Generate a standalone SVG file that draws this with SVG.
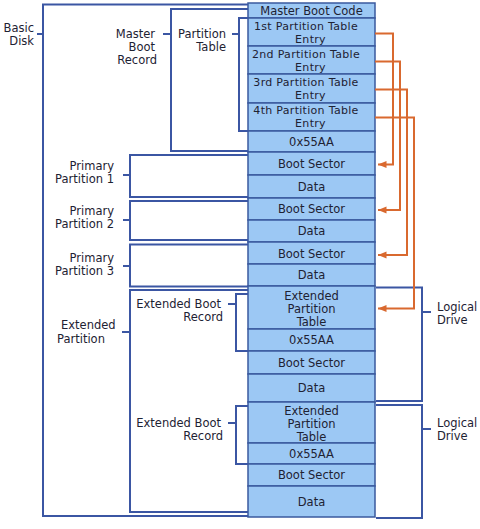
<svg xmlns="http://www.w3.org/2000/svg" width="480" height="529" viewBox="0 0 480 529">
<defs>
<style>
.cell{fill:#9cc8f4;stroke:#3a5a9e;stroke-width:1.5}
text{font-family:"DejaVu Sans","Verdana",sans-serif;font-size:11.5px;fill:#1e2233}
.c{text-anchor:middle}
.e{text-anchor:end}
.s{font-size:11px;letter-spacing:0.3px}
.br{fill:none;stroke:#3b56a3;stroke-width:2}
.ar{fill:none;stroke:#d9692f;stroke-width:2}
</style>
<marker id="ah" markerUnits="userSpaceOnUse" markerWidth="9" markerHeight="8" refX="8.5" refY="4" orient="auto">
<path d="M0,0.5 L8.5,4 L0,7.5 z" fill="#d9692f"/>
</marker>
</defs>
<rect width="480" height="529" fill="#ffffff"/>

<g id="column">
<g id="mbc"><rect class="cell" x="248" y="3" width="127" height="15"/><text class="c" x="311.5" y="14.5">Master Boot Code</text></g>
<g id="pte1"><rect class="cell" x="248" y="18" width="127" height="28"/><text class="c s" x="306" y="29.5">1st Partition Table</text><text class="c s" x="310.5" y="42.5">Entry</text></g>
<g id="pte2"><rect class="cell" x="248" y="46" width="127" height="28"/><text class="c s" x="306" y="57.5">2nd Partition Table</text><text class="c s" x="310.5" y="70.5">Entry</text></g>
<g id="pte3"><rect class="cell" x="248" y="74" width="127" height="29"/><text class="c s" x="306" y="85.5">3rd Partition Table</text><text class="c s" x="310.5" y="98.5">Entry</text></g>
<g id="pte4"><rect class="cell" x="248" y="103" width="127" height="28"/><text class="c s" x="306" y="113.5">4th Partition Table</text><text class="c s" x="310.5" y="126.5">Entry</text></g>
<g id="sig0"><rect class="cell" x="248" y="131" width="127" height="21"/><text class="c" x="311.5" y="146">0x55AA</text></g>
<g id="bs1"><rect class="cell" x="248" y="152" width="127" height="23"/><text class="c" x="311.5" y="168">Boot Sector</text></g>
<g id="data1"><rect class="cell" x="248" y="175" width="127" height="23"/><text class="c" x="311.5" y="190.5">Data</text></g>
<g id="bs2"><rect class="cell" x="248" y="198" width="127" height="22"/><text class="c" x="311.5" y="213">Boot Sector</text></g>
<g id="data2"><rect class="cell" x="248" y="220" width="127" height="22"/><text class="c" x="311.5" y="235">Data</text></g>
<g id="bs3"><rect class="cell" x="248" y="242" width="127" height="22"/><text class="c" x="311.5" y="257.5">Boot Sector</text></g>
<g id="data3"><rect class="cell" x="248" y="264" width="127" height="22"/><text class="c" x="311.5" y="279">Data</text></g>
<g id="ept1"><rect class="cell" x="248" y="286" width="127" height="43"/><text class="c" x="311.5" y="299.5">Extended</text><text class="c" x="311.5" y="312.5">Partition</text><text class="c" x="311.5" y="325.5">Table</text></g>
<g id="sig1"><rect class="cell" x="248" y="329" width="127" height="22"/><text class="c" x="311.5" y="344">0x55AA</text></g>
<g id="bs4"><rect class="cell" x="248" y="351" width="127" height="23"/><text class="c" x="311.5" y="366.5">Boot Sector</text></g>
<g id="data4"><rect class="cell" x="248" y="374" width="127" height="28"/><text class="c" x="311.5" y="392">Data</text></g>
<g id="ept2"><rect class="cell" x="248" y="402" width="127" height="41"/><text class="c" x="311.5" y="414.5">Extended</text><text class="c" x="311.5" y="428">Partition</text><text class="c" x="311.5" y="441">Table</text></g>
<g id="sig2"><rect class="cell" x="248" y="443" width="127" height="21"/><text class="c" x="311.5" y="458">0x55AA</text></g>
<g id="bs5"><rect class="cell" x="248" y="464" width="127" height="22"/><text class="c" x="311.5" y="479">Boot Sector</text></g>
<g id="data5"><rect class="cell" x="248" y="486" width="127" height="31"/><text class="c" x="311.5" y="505.5">Data</text></g>
</g>

<g id="labels">
<g id="lbl-basic-disk"><text class="e" x="34" y="32">Basic</text><text class="e" x="34" y="45">Disk</text></g>
<g id="lbl-mbr"><text class="e" x="155" y="38">Master</text><text class="e" x="155" y="51">Boot</text><text class="e" x="157" y="64">Record</text></g>
<g id="lbl-pt"><text class="e" x="226" y="38">Partition</text><text class="e" x="226" y="51">Table</text></g>
<g id="lbl-pp1"><text class="e" x="114" y="170">Primary</text><text class="e" x="114" y="183">Partition 1</text></g>
<g id="lbl-pp2"><text class="e" x="114" y="215">Primary</text><text class="e" x="114" y="228">Partition 2</text></g>
<g id="lbl-pp3"><text class="e" x="114" y="261.5">Primary</text><text class="e" x="114" y="274.5">Partition 3</text></g>
<g id="lbl-ext"><text x="61" y="329">Extended</text><text x="57" y="343">Partition</text></g>
<g id="lbl-ebr1"><text class="e" x="221" y="308">Extended Boot</text><text class="e" x="223" y="321">Record</text></g>
<g id="lbl-ebr2"><text class="e" x="221" y="427">Extended Boot</text><text class="e" x="223" y="439.5">Record</text></g>
<g id="lbl-ld1"><text x="437" y="311">Logical</text><text x="437" y="324">Drive</text></g>
<g id="lbl-ld2"><text x="437" y="427">Logical</text><text x="437" y="440">Drive</text></g>
</g>

<g id="connectors">
<path class="br" d="M248,4.5 H43 V516 H248 M37,34 H43"/>
<path class="br" d="M248,9 H171 V151 H248 M163,34 H171"/>
<path class="br" d="M248,18 H239 V131 H248 M232,34 H239"/>
<path class="br" d="M248,155 H130 V197 H248 M123,175 H130"/>
<path class="br" d="M248,201 H130 V240 H248 M123,220 H130"/>
<path class="br" d="M248,244.5 H130 V286.5 H248 M123,266 H130"/>
<path class="br" d="M248,290 H130 V512 H248 M122,332 H130"/>
<path class="br" d="M248,294 H236 V351 H248 M228,304 H236"/>
<path class="br" d="M248,406 H236 V464 H248 M228,423 H236"/>
<path class="br" d="M376,287.5 H422 V401 H376 M422,312 H431"/>
<path class="br" d="M376,405 H422 V518 H376 M422,429 H431"/>
<path class="ar" d="M375,33.5 H393 V164.5 H378" marker-end="url(#ah)"/>
<path class="ar" d="M375,61.5 H400 V210 H378" marker-end="url(#ah)"/>
<path class="ar" d="M375,89.5 H407 V255 H378" marker-end="url(#ah)"/>
<path class="ar" d="M375,117.5 H414 V308.5 H378" marker-end="url(#ah)"/>
</g>
</svg>
